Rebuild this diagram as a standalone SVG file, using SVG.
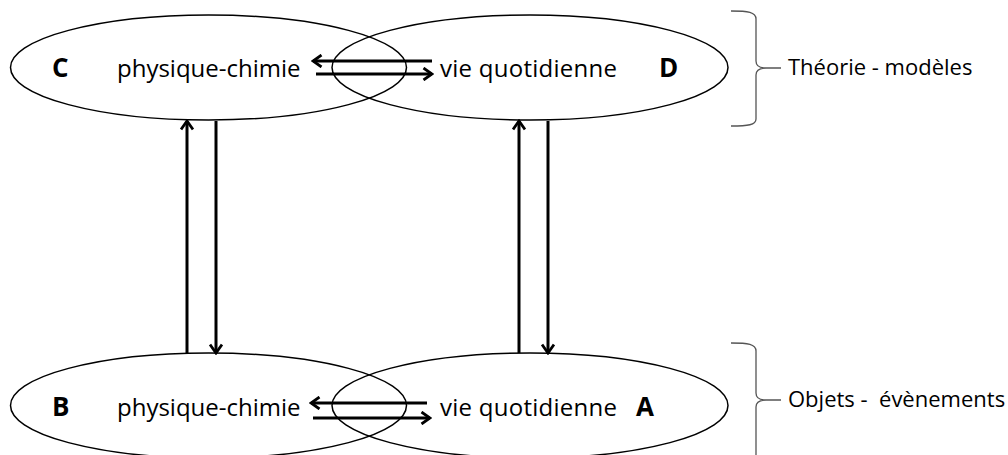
<svg xmlns="http://www.w3.org/2000/svg" width="1008" height="455" viewBox="0 0 1008 455">
<style>
.ell{fill:none;stroke:#000;stroke-width:1.5}
.lbl{font-family:"Open Sans","Liberation Sans",sans-serif;font-size:24px;fill:#000}
.side{font-family:"Open Sans","Liberation Sans",sans-serif;font-size:22px;fill:#000}
.big{font-family:"Open Sans","Liberation Sans",sans-serif;font-size:26px;font-weight:bold;fill:#000}
.arr{fill:none;stroke:#000;stroke-width:3;marker-end:url(#ah)}
.brace{fill:none;stroke:#555;stroke-width:1.3}
</style>
<defs>
<marker id="ah" viewBox="0 0 12 14" refX="10" refY="7" markerWidth="12" markerHeight="14" markerUnits="userSpaceOnUse" orient="auto">
<path d="M1.5,1 L10,7 L1.5,13" fill="none" stroke="#000" stroke-width="2.8" stroke-linejoin="miter"/>
</marker>
</defs>
<rect width="1008" height="455" fill="#fff"/>
<g id="node-C">
<ellipse class="ell" cx="208.5" cy="67.5" rx="198" ry="52.5"/>
<text class="big" x="52" y="77">C</text>
<text class="lbl" x="117" y="77">physique-chimie</text>
</g>
<g id="node-D">
<ellipse class="ell" cx="530" cy="67.5" rx="198" ry="52.5"/>
<text class="lbl" x="440" y="77" textLength="177">vie quotidienne</text>
<text class="big" x="659" y="77">D</text>
</g>
<g id="node-B">
<ellipse class="ell" cx="208.5" cy="405.5" rx="198" ry="52.5"/>
<text class="big" x="52" y="416">B</text>
<text class="lbl" x="117" y="416">physique-chimie</text>
</g>
<g id="node-A">
<ellipse class="ell" cx="530" cy="405.5" rx="198" ry="52.5"/>
<text class="lbl" x="440" y="416" textLength="177">vie quotidienne</text>
<text class="big" x="636" y="416">A</text>
</g>
<g id="connectors">
<line class="arr" x1="432" y1="61" x2="313" y2="61"/>
<line class="arr" x1="316" y1="74" x2="432" y2="74"/>
<line class="arr" x1="427" y1="403" x2="311" y2="403"/>
<line class="arr" x1="313" y1="418" x2="430" y2="418"/>
<line class="arr" x1="187" y1="353" x2="187" y2="121"/>
<line class="arr" x1="216" y1="121" x2="216" y2="353"/>
<line class="arr" x1="519" y1="353" x2="519" y2="121"/>
<line class="arr" x1="548" y1="121" x2="548" y2="353"/>
</g>
<g id="brace-theorie">
<path class="brace" d="M731,11 C748,11 756,12 756,19 L756,61 C756,66 759,68 766,68 L781,68 M766,68 C759,68 756,70 756,75 L756,119 C756,125 748,126 731,126"/>
<text class="side" x="788" y="75">Théorie - modèles</text>
</g>
<g id="brace-objets">
<path class="brace" d="M731,343 C748,343 756,344 756,351 L756,393 C756,398 759,400 766,400 L781,400 M766,400 C759,400 756,402 756,407 L756,460"/>
<text class="side" x="788" y="407" xml:space="preserve">Objets -  évènements</text>
</g>
</svg>
